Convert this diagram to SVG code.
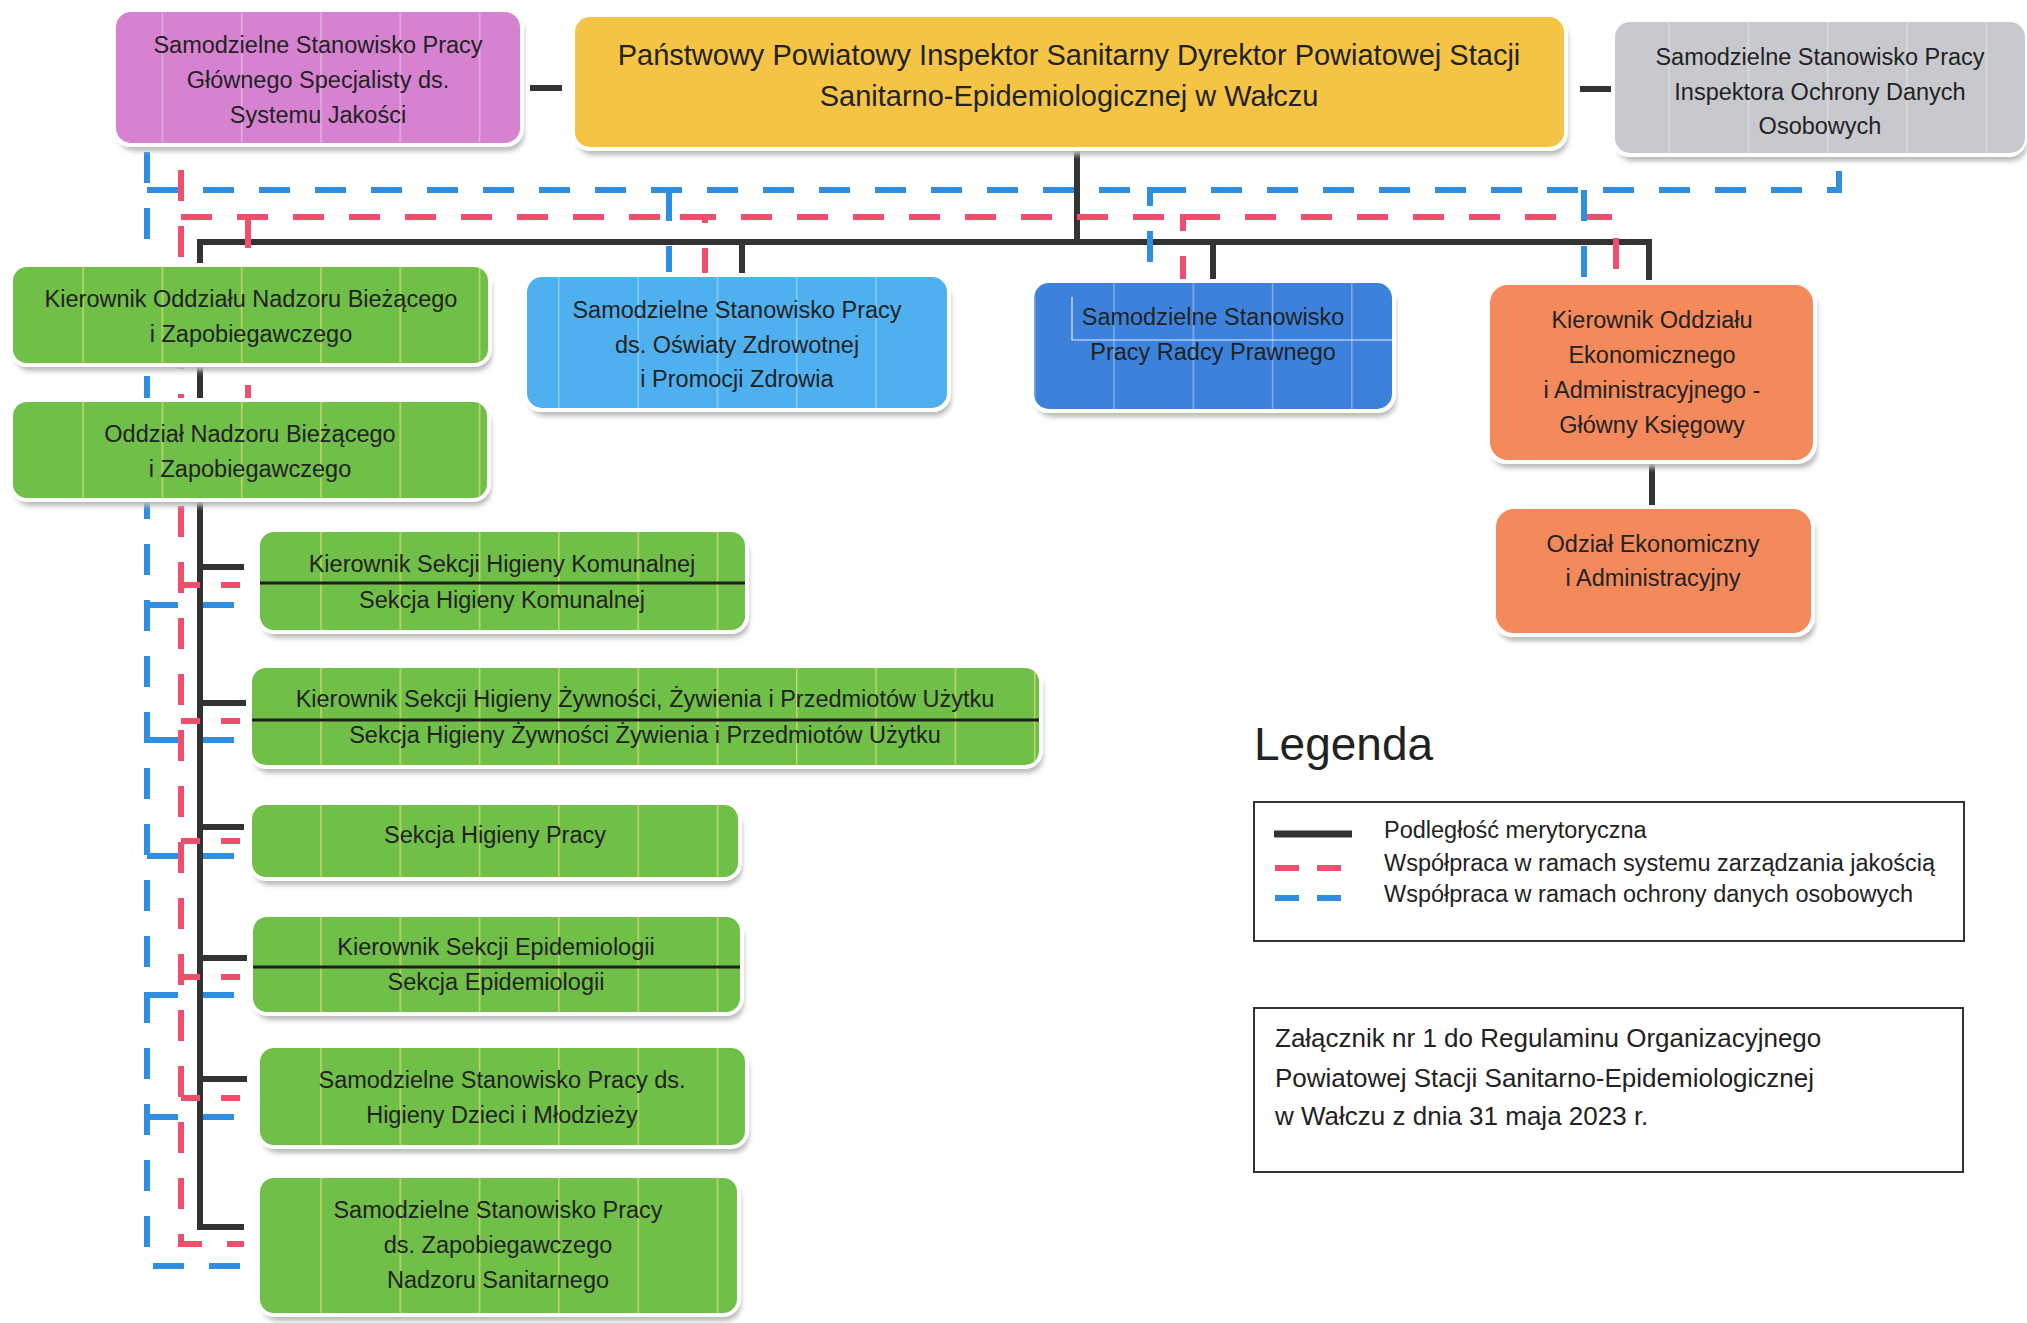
<svg xmlns="http://www.w3.org/2000/svg" width="2027" height="1323" viewBox="0 0 2027 1323">
<defs>
<style>
.t{font-family:"Liberation Sans",Arial,sans-serif;font-size:23.5px;fill:#222;text-anchor:middle}
.tl{font-family:"Liberation Sans",Arial,sans-serif;font-size:23.5px;fill:#222}
.ta{font-family:"Liberation Sans",Arial,sans-serif;font-size:26px;fill:#222}
.sh{fill:#b9b9b9;filter:url(#blur)}
.rim{fill:#ffffff}
.pink{fill:#d682d0}
.yellow{fill:#f5c445}
.gray{fill:#c8c9ce}
.green{fill:#70bf48}
.lblue{fill:#4fb0f0}
.dblue{fill:#3c82dd}
.orange{fill:#f4895c}
.stY{fill:url(#stripesY)}
.stW{fill:url(#stripesW)}
.div{stroke:#1e1e1e;stroke-width:3;fill:none}
.blk{stroke:#333;stroke-width:6;fill:none}
.red{stroke:#ef4f6c;stroke-width:6;fill:none;stroke-dasharray:31 25}
.blu{stroke:#2f8ee0;stroke-width:6;fill:none;stroke-dasharray:31 25}
.redb{stroke:#ef4f6c;stroke-width:6;fill:none;stroke-dasharray:19 21}
.blub{stroke:#2f8ee0;stroke-width:6;fill:none;stroke-dasharray:31 25}
.box{fill:none;stroke:#333;stroke-width:2}
</style>
<filter id="blur" x="-5%" y="-20%" width="110%" height="140%"><feGaussianBlur stdDeviation="2.5"/></filter>
<pattern id="stripesY" patternUnits="userSpaceOnUse" x="3" y="0" width="79.3" height="10"><rect x="0" y="0" width="1.5" height="10" fill="#e6e27a" opacity="0.7"/></pattern>
<pattern id="stripesW" patternUnits="userSpaceOnUse" x="3" y="0" width="79.3" height="10"><rect x="0" y="0" width="1.5" height="10" fill="#ffffff" opacity="0.35"/></pattern>
</defs>
<rect x="0" y="0" width="2027" height="1323" fill="#ffffff"/>

<g id="connectors">
<path class="blk" d="M530,88 H562"/>
<path class="blk" d="M1580,89 H1612"/>
<path class="blk" d="M1077,150 V242"/>
<path class="blk" d="M200,1230 V242 H1649 V280"/>
<path class="blk" d="M742,242 V274"/>
<path class="blk" d="M1213,242 V283"/>
<path class="blk" d="M200,567 H244"/>
<path class="blk" d="M200,703 H246"/>
<path class="blk" d="M200,827 H244"/>
<path class="blk" d="M200,958 H247"/>
<path class="blk" d="M200,1079 H247"/>
<path class="blk" d="M200,1227 H244"/>
<path class="blk" d="M1652,460 V508"/>

<path class="red" d="M181,170 V1244 H244"/>
<path class="red" d="M181,217 H1616 V285"/>
<path class="red" d="M248,217 V402"/>
<path class="red" d="M680,217 H705 V277"/>
<path class="red" d="M1200,217 H1183 V283"/>
<path class="redb" d="M181,585 H242"/>
<path class="redb" d="M181,721 H244"/>
<path class="redb" d="M181,841 H242"/>
<path class="redb" d="M181,977 H242"/>
<path class="redb" d="M181,1098 H245"/>

<path class="blu" d="M147,152 V1266 H244"/>
<path class="blu" d="M147,190 H1839 V160"/>
<path class="blu" d="M669,190 V272"/>
<path class="blu" d="M1165,190 H1150 V283"/>
<path class="blu" d="M1584,190 V283"/>
<path class="blub" d="M147,605 H240"/>
<path class="blub" d="M147,740 H240"/>
<path class="blub" d="M147,856 H240"/>
<path class="blub" d="M147,995 H240"/>
<path class="blub" d="M147,1117 H243"/>
</g>

<g id="n-jakosc">
<rect class="sh" x="118" y="18" width="406" height="133" rx="16"/>
<rect class="rim" x="112" y="8" width="412" height="139" rx="18"/>
<rect class="pink" x="116" y="12" width="404" height="131" rx="15"/>
<rect class="stW" x="116" y="12" width="404" height="131" rx="15"/>
<text class="t" x="318" y="53">Samodzielne Stanowisko Pracy</text>
<text class="t" x="318" y="88">Głównego Specjalisty ds.</text>
<text class="t" x="318" y="123">Systemu Jakości</text>
</g>

<g id="n-dyrektor">
<rect class="sh" x="577" y="23" width="991" height="132" rx="16"/>
<rect class="rim" x="571" y="13" width="997" height="138" rx="18"/>
<rect class="yellow" x="575" y="17" width="989" height="130" rx="15"/>
<text class="t" style="font-size:29px" x="1069" y="65">Państwowy Powiatowy Inspektor Sanitarny Dyrektor Powiatowej Stacji</text>
<text class="t" style="font-size:29px" x="1069" y="106">Sanitarno-Epidemiologicznej w Wałczu</text>
</g>

<g id="n-iodo">
<rect class="sh" x="1617" y="28" width="410" height="133" rx="16"/>
<rect class="rim" x="1611" y="18" width="416" height="139" rx="18"/>
<rect class="gray" x="1615" y="22" width="410" height="131" rx="15"/>
<rect class="stW" x="1615" y="22" width="410" height="131" rx="15"/>
<text class="t" x="1820" y="65">Samodzielne Stanowisko Pracy</text>
<text class="t" x="1820" y="100">Inspektora Ochrony Danych</text>
<text class="t" x="1820" y="134">Osobowych</text>
</g>

<g id="n-kier-nadzoru">
<rect class="sh" x="15" y="273" width="477" height="98" rx="16"/>
<rect class="rim" x="9" y="263" width="483" height="104" rx="18"/>
<rect class="green" x="13" y="267" width="475" height="96" rx="14"/>
<rect class="stY" x="13" y="267" width="475" height="96" rx="14"/>
<text class="t" x="251" y="307">Kierownik Oddziału Nadzoru Bieżącego</text>
<text class="t" x="251" y="342">i Zapobiegawczego</text>
</g>

<g id="n-oswiata">
<rect class="sh" x="529" y="283" width="422" height="133" rx="16"/>
<rect class="rim" x="523" y="273" width="428" height="139" rx="18"/>
<rect class="lblue" x="527" y="277" width="420" height="131" rx="15"/>
<rect class="stW" x="527" y="277" width="420" height="131" rx="15"/>
<text class="t" x="737" y="318">Samodzielne Stanowisko Pracy</text>
<text class="t" x="737" y="353">ds. Oświaty Zdrowotnej</text>
<text class="t" x="737" y="387">i Promocji Zdrowia</text>
</g>

<g id="n-radca">
<rect class="sh" x="1036" y="289" width="360" height="128" rx="16"/>
<rect class="rim" x="1030" y="279" width="366" height="134" rx="18"/>
<rect class="dblue" x="1034" y="283" width="358" height="126" rx="15"/>
<rect class="stW" x="1034" y="283" width="358" height="126" rx="15"/>
<path d="M1072,297 V340 H1392" fill="none" stroke="#e4ecfa" stroke-width="1.2"/>
<text class="t" x="1213" y="325">Samodzielne Stanowisko</text>
<text class="t" x="1213" y="360">Pracy Radcy Prawnego</text>
</g>

<g id="n-kier-ekon">
<rect class="sh" x="1492" y="291" width="325" height="177" rx="16"/>
<rect class="rim" x="1486" y="281" width="331" height="183" rx="20"/>
<rect class="orange" x="1490" y="285" width="323" height="175" rx="18"/>
<text class="t" x="1652" y="328">Kierownik Oddziału</text>
<text class="t" x="1652" y="363">Ekonomicznego</text>
<text class="t" x="1652" y="398">i Administracyjnego -</text>
<text class="t" x="1652" y="433">Główny Księgowy</text>
</g>

<g id="n-odzial-ekon">
<rect class="sh" x="1498" y="515" width="317" height="126" rx="16"/>
<rect class="rim" x="1492" y="505" width="323" height="132" rx="20"/>
<rect class="orange" x="1496" y="509" width="315" height="124" rx="18"/>
<text class="t" x="1653" y="552">Odział Ekonomiczny</text>
<text class="t" x="1653" y="586">i Administracyjny</text>
</g>

<g id="n-oddzial-nadzoru">
<rect class="sh" x="15" y="408" width="476" height="98" rx="16"/>
<rect class="rim" x="9" y="398" width="482" height="104" rx="18"/>
<rect class="green" x="13" y="402" width="474" height="96" rx="14"/>
<rect class="stY" x="13" y="402" width="474" height="96" rx="14"/>
<text class="t" x="250" y="442">Oddział Nadzoru Bieżącego</text>
<text class="t" x="250" y="477">i Zapobiegawczego</text>
</g>

<g id="n-sekcja-komunalna">
<rect class="sh" x="262" y="538" width="487" height="100" rx="16"/>
<rect class="rim" x="256" y="528" width="493" height="106" rx="18"/>
<rect class="green" x="260" y="532" width="485" height="98" rx="14"/>
<rect class="stY" x="260" y="532" width="485" height="98" rx="14"/>
<path class="div" d="M260,583 H745"/>
<text class="t" x="502" y="572">Kierownik Sekcji Higieny Komunalnej</text>
<text class="t" x="502" y="608">Sekcja Higieny Komunalnej</text>
</g>

<g id="n-sekcja-zywnosc">
<rect class="sh" x="254" y="674" width="789" height="99" rx="16"/>
<rect class="rim" x="248" y="664" width="795" height="105" rx="18"/>
<rect class="green" x="252" y="668" width="787" height="97" rx="14"/>
<rect class="stY" x="252" y="668" width="787" height="97" rx="14"/>
<path class="div" d="M252,720 H1039"/>
<text class="t" x="645" y="707">Kierownik Sekcji Higieny Żywności, Żywienia i Przedmiotów Użytku</text>
<text class="t" x="645" y="743">Sekcja Higieny Żywności Żywienia i Przedmiotów Użytku</text>
</g>

<g id="n-sekcja-pracy">
<rect class="sh" x="254" y="811" width="488" height="74" rx="16"/>
<rect class="rim" x="248" y="801" width="494" height="80" rx="18"/>
<rect class="green" x="252" y="805" width="486" height="72" rx="14"/>
<rect class="stY" x="252" y="805" width="486" height="72" rx="14"/>
<text class="t" x="495" y="843">Sekcja Higieny Pracy</text>
</g>

<g id="n-sekcja-epid">
<rect class="sh" x="255" y="923" width="489" height="97" rx="16"/>
<rect class="rim" x="249" y="913" width="495" height="103" rx="18"/>
<rect class="green" x="253" y="917" width="487" height="95" rx="14"/>
<rect class="stY" x="253" y="917" width="487" height="95" rx="14"/>
<path class="div" d="M253,967 H740"/>
<text class="t" x="496" y="955">Kierownik Sekcji Epidemiologii</text>
<text class="t" x="496" y="990">Sekcja Epidemiologii</text>
</g>

<g id="n-higiena-dzieci">
<rect class="sh" x="262" y="1054" width="487" height="99" rx="16"/>
<rect class="rim" x="256" y="1044" width="493" height="105" rx="18"/>
<rect class="green" x="260" y="1048" width="485" height="97" rx="14"/>
<rect class="stY" x="260" y="1048" width="485" height="97" rx="14"/>
<text class="t" x="502" y="1088">Samodzielne Stanowisko Pracy ds.</text>
<text class="t" x="502" y="1123">Higieny Dzieci i Młodzieży</text>
</g>

<g id="n-zapobiegawczy">
<rect class="sh" x="262" y="1184" width="479" height="137" rx="16"/>
<rect class="rim" x="256" y="1174" width="485" height="143" rx="18"/>
<rect class="green" x="260" y="1178" width="477" height="135" rx="14"/>
<rect class="stY" x="260" y="1178" width="477" height="135" rx="14"/>
<text class="t" x="498" y="1218">Samodzielne Stanowisko Pracy</text>
<text class="t" x="498" y="1253">ds. Zapobiegawczego</text>
<text class="t" x="498" y="1288">Nadzoru Sanitarnego</text>
</g>

<g id="legend">
<text x="1254" y="760" style="font-family:'Liberation Sans',Arial,sans-serif;font-size:46px;fill:#222">Legenda</text>
<rect class="box" x="1254" y="802" width="710" height="139"/>
<path d="M1274,834 H1352" stroke="#333" stroke-width="7" fill="none"/>
<path d="M1275,868 H1341" stroke="#ef4f6c" stroke-width="6" fill="none" stroke-dasharray="24 18"/>
<path d="M1275,898 H1341" stroke="#2f8ee0" stroke-width="6" fill="none" stroke-dasharray="24 18"/>
<text class="tl" x="1384" y="838">Podległość merytoryczna</text>
<text class="tl" x="1384" y="871">Współpraca w ramach systemu zarządzania jakością</text>
<text class="tl" x="1384" y="902">Współpraca w ramach ochrony danych osobowych</text>
</g>

<g id="attachment">
<rect class="box" x="1254" y="1008" width="709" height="164"/>
<text class="ta" x="1275" y="1047">Załącznik nr 1 do Regulaminu Organizacyjnego</text>
<text class="ta" x="1275" y="1087">Powiatowej Stacji Sanitarno-Epidemiologicznej</text>
<text class="ta" x="1275" y="1125">w Wałczu z dnia 31 maja 2023 r.</text>
</g>
</svg>
